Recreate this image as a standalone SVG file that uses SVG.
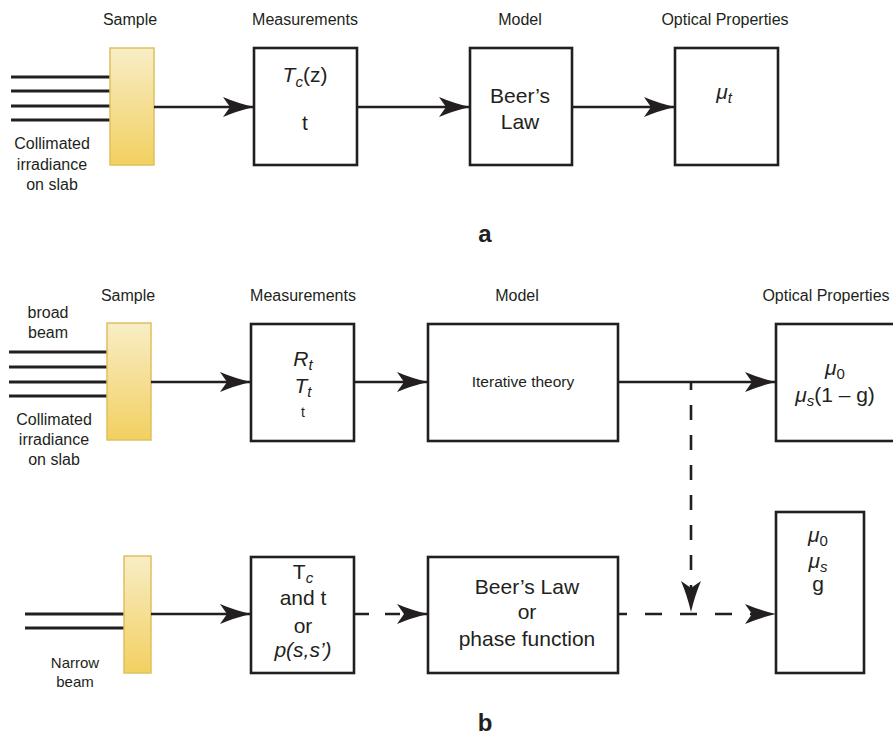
<svg xmlns="http://www.w3.org/2000/svg" width="893" height="735" viewBox="0 0 893 735">
<defs>
<linearGradient id="slab" x1="0" y1="0" x2="0" y2="1">
<stop offset="0" stop-color="#f8edc6"/>
<stop offset="1" stop-color="#f2d060"/>
</linearGradient>
<marker id="ah" markerUnits="userSpaceOnUse" markerWidth="32" markerHeight="22" refX="31" refY="11" orient="auto" viewBox="0 0 32 22">
<path d="M0,1 Q14,7 31,11 Q14,15 0,21 L7,11 Z" fill="#231f20"/>
</marker>
<style>
text{font-family:"Liberation Sans",Arial,sans-serif;fill:#231f20;text-anchor:middle}
.lbl{font-size:16px}
.big{font-size:21px}
.it{font-style:italic}
.sub{font-size:15px;font-style:italic}
.box{fill:#fff;stroke:#231f20;stroke-width:2.6}
.slab{fill:url(#slab);stroke:#dfc05e;stroke-width:1.5}
.beam{stroke:#231f20;stroke-width:3;fill:none}
.con{stroke:#231f20;stroke-width:2.6;fill:none}
</style>
</defs>

<!-- Panel a -->
<g id="a-headers">
<text class="lbl" x="130" y="25">Sample</text>
<text class="lbl" x="305" y="25">Measurements</text>
<text class="lbl" x="520" y="25">Model</text>
<text class="lbl" x="725" y="25">Optical Properties</text>
</g>
<g id="a-beam">
<line class="beam" x1="11" y1="77" x2="110" y2="77"/>
<line class="beam" x1="11" y1="91" x2="110" y2="91"/>
<line class="beam" x1="11" y1="106" x2="110" y2="106"/>
<line class="beam" x1="11" y1="120" x2="110" y2="120"/>
<text class="lbl" x="52" y="149">Collimated</text>
<text class="lbl" x="52" y="170">irradiance</text>
<text class="lbl" x="52" y="190">on slab</text>
</g>
<g id="a-sample"><rect class="slab" x="110" y="48" width="44" height="117"/></g>
<g id="a-meas">
<rect class="box" x="254" y="48" width="103" height="117"/>
<text class="big" x="305" y="82"><tspan class="it">T</tspan><tspan class="sub" dy="5">c</tspan><tspan dy="-5">(z)</tspan></text>
<text class="big" x="305" y="130">t</text>
</g>
<g id="a-model">
<rect class="box" x="470" y="48" width="102" height="117"/>
<text class="big" x="520" y="103">Beer’s</text>
<text class="big" x="520" y="129">Law</text>
</g>
<g id="a-optical">
<rect class="box" x="675" y="48" width="103" height="117"/>
<text class="big it" x="724" y="99">μ<tspan class="sub" dy="4">t</tspan></text>
</g>
<g id="a-connectors">
<line class="con" x1="154" y1="107" x2="254" y2="107" marker-end="url(#ah)"/>
<line class="con" x1="357" y1="107" x2="470" y2="107" marker-end="url(#ah)"/>
<line class="con" x1="572" y1="107" x2="675" y2="107" marker-end="url(#ah)"/>
</g>
<text x="485" y="242" style="font-size:24px;font-weight:bold">a</text>

<!-- Panel b -->
<g id="b-headers">
<text class="lbl" x="128" y="301">Sample</text>
<text class="lbl" x="303" y="301">Measurements</text>
<text class="lbl" x="517" y="301">Model</text>
<text class="lbl" x="826" y="301">Optical Properties</text>
</g>
<g id="b-beam-top">
<text class="lbl" x="48" y="318">broad</text>
<text class="lbl" x="48" y="338">beam</text>
<line class="beam" x1="9" y1="352" x2="108" y2="352"/>
<line class="beam" x1="9" y1="367" x2="108" y2="367"/>
<line class="beam" x1="9" y1="382" x2="108" y2="382"/>
<line class="beam" x1="9" y1="396" x2="108" y2="396"/>
<text class="lbl" x="54" y="425">Collimated</text>
<text class="lbl" x="54" y="445">irradiance</text>
<text class="lbl" x="54" y="465">on slab</text>
</g>
<g id="b-sample-top"><rect class="slab" x="107" y="323" width="44" height="117"/></g>
<g id="b-meas-top">
<rect class="box" x="251" y="324" width="103" height="117"/>
<text class="big it" x="303" y="366">R<tspan class="sub" dy="4">t</tspan></text>
<text class="big it" x="303" y="393">T<tspan class="sub" dy="4">t</tspan></text>
<text x="303" y="417" style="font-size:14px">t</text>
</g>
<g id="b-model-top">
<rect class="box" x="428" y="324" width="190" height="117"/>
<text x="523" y="387" style="font-size:15.5px">Iterative theory</text>
</g>
<g id="b-optical-top">
<rect class="box" x="776" y="324" width="130" height="117"/>
<text class="big" x="835" y="375"><tspan class="it">μ</tspan><tspan class="sub" dy="4" style="font-style:normal">0</tspan></text>
<text class="big" x="835" y="402"><tspan class="it">μ</tspan><tspan class="sub" dy="4">s</tspan><tspan dy="-4">(1 – g)</tspan></text>
</g>

<g id="b-beam-bottom">
<line class="beam" x1="25" y1="614" x2="124" y2="614"/>
<line class="beam" x1="25" y1="628" x2="124" y2="628"/>
<text x="75" y="668" style="font-size:15px">Narrow</text>
<text x="75" y="687" style="font-size:15px">beam</text>
</g>
<g id="b-sample-bottom"><rect class="slab" x="124" y="556" width="27" height="117"/></g>
<g id="b-meas-bottom">
<rect class="box" x="251" y="557" width="103" height="116"/>
<text class="big" x="303" y="579">T<tspan class="sub" dy="4">c</tspan></text>
<text class="big" x="303" y="605">and t</text>
<text class="big" x="303" y="633">or</text>
<text class="big it" x="303" y="657">p(s,s’)</text>
</g>
<g id="b-model-bottom">
<rect class="box" x="428" y="557" width="190" height="116"/>
<text class="big" x="527" y="594">Beer’s Law</text>
<text class="big" x="527" y="619">or</text>
<text class="big" x="527" y="646">phase function</text>
</g>
<g id="b-optical-bottom">
<rect class="box" x="776" y="512" width="88" height="161"/>
<text class="big" x="818" y="542"><tspan class="it">μ</tspan><tspan class="sub" dy="4" style="font-style:normal">0</tspan></text>
<text class="big" x="818" y="568"><tspan class="it">μ</tspan><tspan class="sub" dy="4">s</tspan></text>
<text class="big" x="818" y="591">g</text>
</g>

<g id="b-connectors">
<line class="con" x1="151" y1="382" x2="251" y2="382" marker-end="url(#ah)"/>
<line class="con" x1="354" y1="382" x2="428" y2="382" marker-end="url(#ah)"/>
<line class="con" x1="618" y1="382" x2="776" y2="382" marker-end="url(#ah)"/>
<line class="con" x1="691" y1="382" x2="691" y2="612" stroke-dasharray="15 15" stroke-dashoffset="7" marker-end="url(#ah)"/>
<line class="con" x1="151" y1="614" x2="251" y2="614" marker-end="url(#ah)"/>
<line class="con" x1="354" y1="614" x2="428" y2="614" stroke-dasharray="15 16" marker-end="url(#ah)"/>
<line class="con" x1="618" y1="614" x2="776" y2="614" stroke-dasharray="17 18" stroke-dashoffset="8" marker-end="url(#ah)"/>
</g>
<text x="485" y="731" style="font-size:24px;font-weight:bold">b</text>
</svg>
